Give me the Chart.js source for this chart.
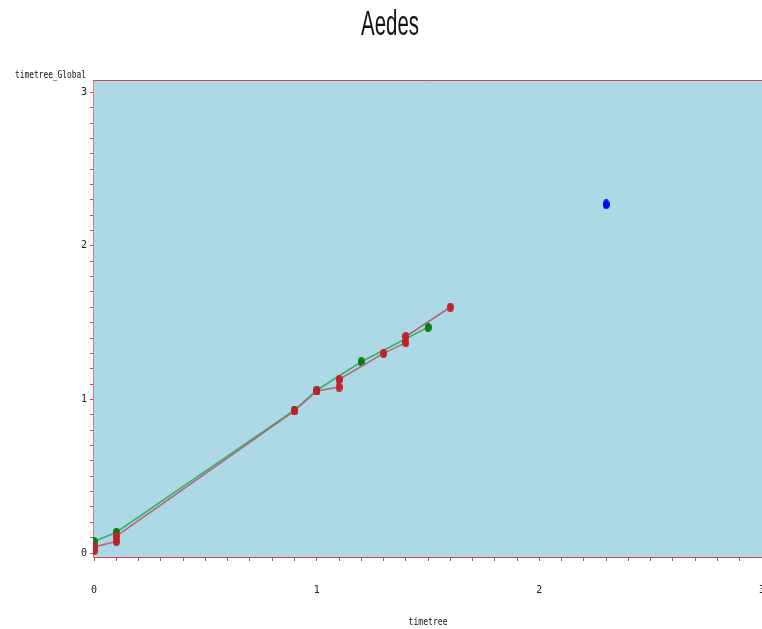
<!DOCTYPE html>
<html>
<head>
<meta charset="utf-8">
<script src="https://cdn.jsdelivr.net/npm/chart.js@4/dist/chart.umd.min.js"></script>
<style>
  html, body { margin: 0; padding: 0; background: #ffffff; overflow: hidden; }
  canvas { display: block; }
</style>
</head>
<body>
<canvas id="c" width="762" height="629" style="width:762px;height:629px"></canvas>
<script>
// ---- data ----
const chartTitle = 'Aedes';
const xTitle = 'timetree';
const yTitle = 'timetree_Global';

const redX   = [0, 0, 0.1, 0.1, 0.9, 1.0, 1.1, 1.1, 1.3, 1.4, 1.4, 1.6];
const redY   = [0.015, 0.04, 0.075, 0.11, 0.925, 1.055, 1.08, 1.13, 1.30, 1.37, 1.41, 1.60];
const greenX = [0, 0.1, 0.9, 1.0, 1.2, 1.5];
const greenY = [0.075, 0.135, 0.93, 1.06, 1.245, 1.47];
const blueX  = [2.3];
const blueY  = [2.27];

const tickValues = [0, 1, 2, 3];   // labelled ticks; minor marks every 0.1
const minorStep = 0.1;

// ---- helpers ----
function pairs(xs, ys) { return xs.map((x, i) => ({ x: x, y: ys[i] })); }

function ellipseSprite(w, h, color) {
  const c = document.createElement('canvas');
  c.width = w; c.height = h;
  const g = c.getContext('2d');
  g.fillStyle = color;
  g.beginPath();
  g.ellipse(w / 2, h / 2, w / 2, h / 2, 0, 0, Math.PI * 2);
  g.fill();
  return c;
}

function minorTicks(scale) {
  const out = [];
  const last = tickValues[tickValues.length - 1];
  for (let i = 0; i <= Math.round(last / minorStep); i++) {
    const v = Math.round(i * minorStep * 1000) / 1000;
    if (v >= scale.min - 1e-9 && v <= scale.max + 1e-9) out.push({ value: v });
  }
  scale.ticks = out;
}

function majorLabel(v) {
  return tickValues.some(t => Math.abs(t - v) < 1e-6) ? String(Math.round(v)) : '';
}

const axisRed = 'rgb(214, 70, 82)';

// plot background, top frame line and free-standing texts
const framePlugin = {
  id: 'frame',
  beforeDraw(chart) {
    const { ctx, chartArea: a } = chart;
    ctx.save();
    ctx.fillStyle = 'rgb(173, 216, 230)';
    ctx.fillRect(a.left, a.top, a.right - a.left, a.bottom - a.top);
    ctx.restore();
  },
  afterDraw(chart) {
    const { ctx, chartArea: a } = chart;
    ctx.save();
    ctx.strokeStyle = axisRed;
    ctx.lineWidth = 1;
    ctx.beginPath();
    ctx.moveTo(a.left, a.top + 0.5);
    ctx.lineTo(a.right, a.top + 0.5);
    ctx.stroke();

    function narrowText(text, font, cx, cy, width, align) {
      ctx.save();
      ctx.font = font;
      ctx.fillStyle = '#111';
      ctx.textBaseline = 'middle';
      ctx.textAlign = 'left';
      const w = ctx.measureText(text).width;
      const k = width / w;
      const left = align === 'right' ? cx - width : cx - width / 2;
      ctx.translate(left, cy);
      ctx.scale(k, 1);
      ctx.fillText(text, 0, 0);
      ctx.restore();
    }
    narrowText(chartTitle, '35px "Liberation Sans Narrow", "Liberation Sans", sans-serif', 390, 25, 58, 'center');
    narrowText(yTitle, '10px "DejaVu Sans Mono", monospace', 86, 75, 71, 'right');
    narrowText(xTitle, '10px "DejaVu Sans Mono", monospace', 428, 622, 39, 'center');
    ctx.restore();
  }
};

const tickFont = { family: '"DejaVu Sans Mono", monospace', size: 10 };

new Chart(document.getElementById('c'), {
  type: 'scatter',
  data: {
    datasets: [
      {
        data: pairs(redX, redY),
        showLine: true,
        borderColor: 'rgb(178, 104, 116)',
        borderWidth: 1.6,
        pointStyle: ellipseSprite(7, 9, 'rgb(190, 34, 44)'),
        pointRadius: 4,
        pointHoverRadius: 4
      },
      {
        data: pairs(greenX, greenY),
        showLine: true,
        borderColor: 'rgb(60, 176, 104)',
        borderWidth: 1.6,
        pointStyle: ellipseSprite(7, 9, 'rgb(0, 128, 20)'),
        pointRadius: 4,
        pointHoverRadius: 4
      },
      {
        data: pairs(blueX, blueY),
        showLine: false,
        pointStyle: ellipseSprite(7, 10, 'rgb(0, 0, 255)'),
        pointRadius: 4,
        pointHoverRadius: 4
      }
    ]
  },
  options: {
    responsive: false,
    animation: false,
    devicePixelRatio: 1,
    layout: { autoPadding: false, padding: { top: 80, left: 0, right: 0, bottom: 0 } },
    plugins: {
      legend: { display: false },
      title: { display: false },
      tooltip: { enabled: false }
    },
    scales: {
      x: {
        type: 'linear',
        min: -0.005,
        max: 3,
        afterBuildTicks: minorTicks,
        afterFit(s) { s.height = 72; s.paddingLeft = 0; s.paddingRight = 0; },
        border: { display: true, color: axisRed, width: 1 },
        grid: { drawOnChartArea: false, drawTicks: true, tickLength: 4, color: axisRed },
        ticks: {
          autoSkip: false, maxRotation: 0, padding: 23,
          color: '#222', font: tickFont,
          callback: majorLabel
        }
      },
      y: {
        type: 'linear',
        min: -0.026,
        max: 3.08,
        afterBuildTicks: minorTicks,
        afterFit(s) { s.width = 93; s.paddingTop = 0; s.paddingBottom = 0; },
        border: { display: true, color: 'rgb(220, 120, 130)', width: 1 },
        grid: { drawOnChartArea: false, drawTicks: true, tickLength: 3, color: axisRed },
        ticks: {
          autoSkip: false, padding: 3,
          color: '#222', font: tickFont,
          callback: majorLabel
        }
      }
    }
  },
  plugins: [framePlugin]
});
</script>
</body>
</html>
